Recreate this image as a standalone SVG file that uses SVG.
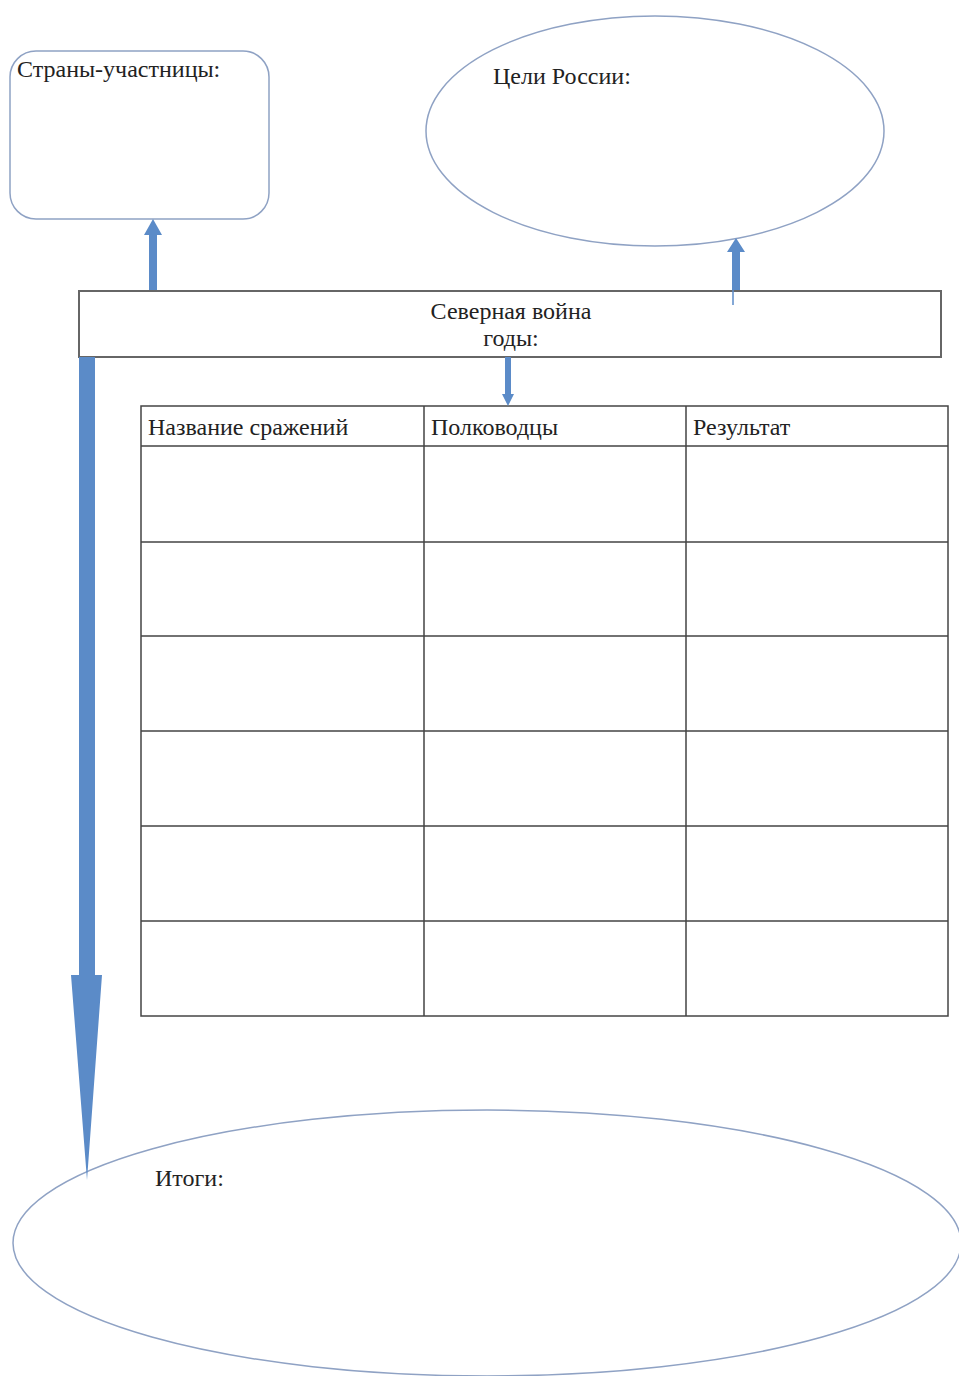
<svg xmlns="http://www.w3.org/2000/svg" width="959" height="1376" viewBox="0 0 959 1376">
<style>
.t{font-family:"Liberation Serif","Times New Roman",serif;font-size:24px;fill:#222}
.shape{fill:#fff;stroke:#8fa2c4;stroke-width:1.5}
.box{fill:#fff;stroke:#666;stroke-width:2}
.grid{stroke:#444;stroke-width:1.5;fill:none}
.arr{fill:#5b8bc8}
</style>
<rect width="959" height="1376" fill="#fff"/>
<g id="countries">
<rect class="shape" x="10" y="51" width="259" height="168" rx="26"/>
<text class="t" x="17" y="77">Страны-участницы:</text>
</g>
<g id="goals">
<ellipse class="shape" cx="655" cy="131" rx="229" ry="115"/>
<text class="t" x="493" y="84">Цели России:</text>
</g>
<g id="war">
<rect class="box" x="79" y="291" width="862" height="66"/>
<text class="t" x="511" y="319" text-anchor="middle">Северная война</text>
<text class="t" x="511" y="346" text-anchor="middle">годы:</text>
</g>
<g id="table">
<rect class="grid" x="141" y="406" width="807" height="610"/>
<path class="grid" d="M424 406V1016M686 406V1016M141 446H948M141 542H948M141 636H948M141 731H948M141 826H948M141 921H948"/>
<text class="t" x="148" y="435">Название сражений</text>
<text class="t" x="431" y="435">Полководцы</text>
<text class="t" x="693" y="435">Результат</text>
</g>
<g id="results">
<ellipse class="shape" cx="487" cy="1243" rx="474" ry="133"/>
<text class="t" x="155" y="1186">Итоги:</text>
</g>
<g id="connectors">
<path class="arr" d="M149 290V235H144L153 219L162 235H157V290Z"/>
<path class="arr" d="M732 290V252H727L736 238L745 252H740V290Z"/>
<line x1="733" y1="290" x2="733" y2="305" stroke="#5b8bc8" stroke-width="1.5"/>
<path class="arr" d="M505 357V394H502L508 406L514 394H511V357Z"/>
<path class="arr" d="M79 357H95V975H102L87 1180L71 975H79Z"/>
</g>
</svg>
